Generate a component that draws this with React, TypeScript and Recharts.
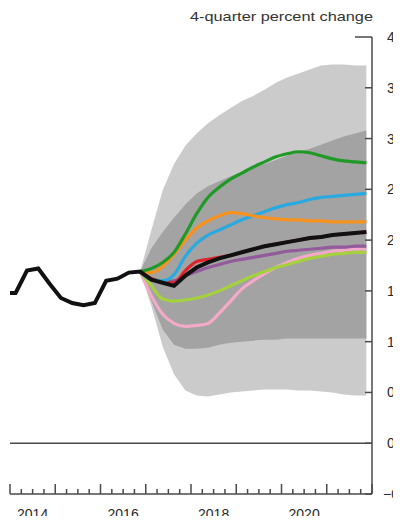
import React from 'react';
import { ComposedChart, Area, Line, XAxis, YAxis, ReferenceLine } from 'recharts';

// quarters 2013Q4 .. 2021Q4
const quarters: string[] = [];
for (let yr = 2013; yr <= 2021; yr++) {
  for (let q = 1; q <= 4; q++) {
    if (yr > 2013 || q === 4) quarters.push(`${yr}Q${q}`);
  }
}

// history, 2013Q4 .. 2016Q4
const history = [1.48, 1.48, 1.70, 1.72, 1.57, 1.43, 1.38, 1.36, 1.38, 1.60, 1.62, 1.68, 1.69];

// projections, 2016Q4 .. 2021Q4
const baseline = [1.69, 1.61, 1.58, 1.55, 1.65, 1.73, 1.78, 1.82, 1.85, 1.88, 1.91, 1.94, 1.96, 1.98, 2.00, 2.02, 2.03, 2.05, 2.06, 2.07, 2.08];
const green = [1.69, 1.72, 1.78, 1.88, 2.06, 2.26, 2.42, 2.52, 2.60, 2.66, 2.72, 2.77, 2.82, 2.85, 2.87, 2.86, 2.83, 2.80, 2.78, 2.77, 2.76];
const orange = [1.69, 1.68, 1.74, 1.86, 2.00, 2.12, 2.19, 2.24, 2.27, 2.26, 2.24, 2.22, 2.21, 2.20, 2.20, 2.19, 2.19, 2.18, 2.18, 2.18, 2.18];
const cyan = [1.69, 1.61, 1.60, 1.66, 1.84, 1.97, 2.05, 2.10, 2.15, 2.20, 2.24, 2.28, 2.32, 2.35, 2.37, 2.40, 2.42, 2.43, 2.44, 2.45, 2.46];
const red = [1.69, 1.62, 1.59, 1.58, 1.70, 1.79, 1.81, 1.83, 1.85, 1.88, 1.91, 1.94, 1.96, 1.98, 2.00, 2.02, 2.03, 2.05, 2.06, 2.07, 2.08];
const purple = [1.69, 1.62, 1.59, 1.60, 1.65, 1.69, 1.73, 1.76, 1.79, 1.81, 1.83, 1.85, 1.87, 1.89, 1.90, 1.91, 1.92, 1.93, 1.93, 1.94, 1.94];
const lime = [1.69, 1.55, 1.42, 1.40, 1.41, 1.43, 1.46, 1.50, 1.55, 1.60, 1.65, 1.69, 1.73, 1.76, 1.79, 1.82, 1.84, 1.86, 1.87, 1.88, 1.88];
const pink = [1.69, 1.45, 1.27, 1.18, 1.15, 1.16, 1.18, 1.28, 1.40, 1.52, 1.60, 1.67, 1.73, 1.78, 1.82, 1.85, 1.87, 1.89, 1.90, 1.91, 1.91];

// confidence bands
const outerHi = [1.69, 2.10, 2.49, 2.75, 2.93, 3.05, 3.15, 3.23, 3.30, 3.37, 3.42, 3.48, 3.55, 3.60, 3.64, 3.68, 3.72, 3.73, 3.73, 3.72, 3.72];
const outerLo = [1.69, 1.35, 0.95, 0.68, 0.52, 0.47, 0.46, 0.48, 0.50, 0.51, 0.52, 0.53, 0.53, 0.53, 0.52, 0.52, 0.51, 0.50, 0.48, 0.47, 0.47];
const innerHi = [1.69, 1.92, 2.08, 2.22, 2.35, 2.46, 2.53, 2.58, 2.63, 2.67, 2.71, 2.75, 2.79, 2.83, 2.87, 2.90, 2.94, 2.98, 3.02, 3.05, 3.08];
const innerLo = [1.69, 1.40, 1.12, 0.97, 0.93, 0.93, 0.94, 0.97, 0.99, 1.00, 1.01, 1.02, 1.02, 1.03, 1.03, 1.03, 1.03, 1.03, 1.03, 1.03, 1.03];

const yTicks = [-0.5, 0, 0.5, 1, 1.5, 2, 2.5, 3, 3.5, 4];
const yearLabels = ['2014', '2016', '2018', '2020'];
const xTicks: number[] = [];
for (let i = 0; i <= 32; i++) xTicks.push(2014 + i / 4);

const title = '4-quarter percent change';

const FONT = "'Liberation Sans', Arial, sans-serif";
const AXIS = '#4a4a4a';

function quarterToYear(q: string): number {
  const [yr, qq] = q.split('Q');
  return Number(yr) + (Number(qq) - 0.5) / 4;
}

const data = quarters.map((q, i) => {
  const p = i - (history.length - 1);
  const proj = (arr: number[]) => (p >= 0 ? arr[p] : null);
  return {
    t: quarterToYear(q),
    black: p < 0 ? history[i] : baseline[p],
    green: proj(green),
    orange: proj(orange),
    cyan: proj(cyan),
    red: proj(red),
    purple: proj(purple),
    lime: proj(lime),
    pink: proj(pink),
    outer: p >= 0 ? [outerLo[p], outerHi[p]] : null,
    inner: p >= 0 ? [innerLo[p], innerHi[p]] : null
  };
});

function XTick(props: any) {
  const { x, y, payload } = props;
  const v: number = payload.value;
  const major = Number.isInteger(v);
  const label = yearLabels.find((l) => Number(l) + 0.5 === v);
  return (
    <g>
      <line x1={x} x2={x} y1={y} y2={y - (major ? 10 : 5)} stroke={AXIS} strokeWidth={1.5} />
      {label && (
        <text x={x} y={y + 25} textAnchor="middle" fontSize={14} fontFamily={FONT} fill="#2a2a2a">
          {label}
        </text>
      )}
    </g>
  );
}

function LeftTick(props: any) {
  const { x, y } = props;
  return <line x1={x} x2={x + 5} y1={y} y2={y} stroke={AXIS} strokeWidth={1.5} />;
}

function RightTick(props: any) {
  const { x, y, payload } = props;
  const v: number = payload.value;
  const len = v === 4 ? 17 : 7;
  const txt = v < 0 ? '\u2212' + Math.abs(v).toFixed(1) : v.toFixed(1);
  return (
    <g>
      <line x1={x - len} x2={x} y1={y} y2={y} stroke={AXIS} strokeWidth={1.5} />
      <text x={x + (v < 0 ? 11 : 15)} y={y} dy={5} fontSize={14} fontFamily={FONT} fill="#2a2a2a">
        {txt}
      </text>
    </g>
  );
}

export default function App() {
  const lines: [string, string][] = [
    ['pink', '#f4a9c8'],
    ['lime', '#a5d13f'],
    ['purple', '#935a9c'],
    ['red', '#e0242b'],
    ['cyan', '#29a9df'],
    ['orange', '#f7921e'],
    ['green', '#1f9a27']
  ];
  return (
    <div style={{ position: 'relative', width: 393, height: 516, overflow: 'hidden', marginBottom: -8 }}>
      <svg width={393} height={30} style={{ position: 'absolute', left: 0, top: 0 }}>
        <text
          x={182}
          y={13}
          textLength={183}
          lengthAdjust="spacingAndGlyphs"
          fontSize={13}
          fontFamily={FONT}
          fill="#333"
        >
          {title}
        </text>
      </svg>
      <ComposedChart
        width={430}
        height={516}
        data={data}
        margin={{ top: 29, right: 26, bottom: 0, left: 2 }}
      >
        <XAxis
          dataKey="t"
          type="number"
          domain={[2014, 2022]}
          allowDataOverflow
          ticks={xTicks}
          interval={0}
          tickSize={0}
          tickMargin={0}
          tickLine={false}
          tick={<XTick />}
          height={30}
          axisLine={{ stroke: AXIS, strokeWidth: 1.5 }}
        />
        <YAxis
          yAxisId="l"
          orientation="left"
          width={0}
          domain={[-0.5, 4]}
          ticks={yTicks}
          interval={0}
          tickSize={0}
          tickMargin={0}
          tickLine={false}
          tick={<LeftTick />}
          axisLine={{ stroke: AXIS, strokeWidth: 1.5 }}
        />
        <YAxis
          yAxisId="r"
          orientation="right"
          width={40}
          domain={[-0.5, 4]}
          ticks={yTicks}
          interval={0}
          tickSize={0}
          tickMargin={0}
          tickLine={false}
          tick={<RightTick />}
          axisLine={{ stroke: AXIS, strokeWidth: 1.5 }}
        />
        <Area yAxisId="r" dataKey="outer" type="linear" fill="#cbcbcb" fillOpacity={1} stroke="none" isAnimationActive={false} />
        <Area yAxisId="r" dataKey="inner" type="linear" fill="#a3a3a3" fillOpacity={1} stroke="none" isAnimationActive={false} />
        <ReferenceLine yAxisId="r" y={0} stroke={AXIS} strokeWidth={1.5} />
        {lines.map(([key, color]) => (
          <Line
            key={key}
            yAxisId="r"
            dataKey={key}
            type="monotone"
            stroke={color}
            strokeWidth={3.2}
            dot={false}
            isAnimationActive={false}
          />
        ))}
        <Line yAxisId="r" dataKey="black" type="linear" stroke="#111" strokeWidth={4} dot={false} isAnimationActive={false} />
      </ComposedChart>
    </div>
  );
}
